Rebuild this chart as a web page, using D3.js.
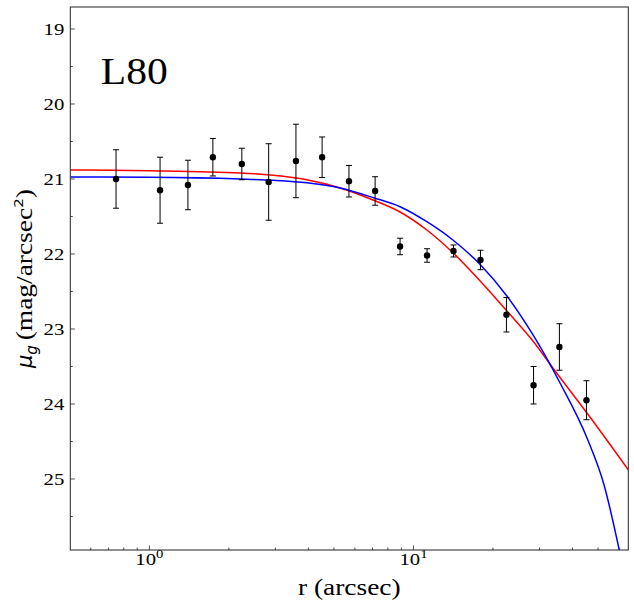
<!DOCTYPE html>
<html>
<head>
<meta charset="utf-8">
<script src="https://cdn.jsdelivr.net/npm/d3@7"></script>
<style>
  body { margin: 0; background: #fff; }
</style>
</head>
<body>
<div id="chart"></div>
<script>
var WIDTH = 634
var HEIGHT = 608
// no DejaVu Serif here: Liberation Serif, widened to DejaVu-like proportions
var SERIF = "'Liberation Serif', 'Times New Roman', serif"
var SANS = "'DejaVu Sans', sans-serif"
var STRETCH = 1.22

// measured profile points (arcsec, mag/arcsec^2)
var radius = [0.748, 1.098, 1.40, 1.74, 2.24, 2.83, 3.59, 4.51, 5.70, 7.16,
              8.90, 11.26, 14.18, 17.94, 22.5, 28.5, 35.7, 45.2];
var mu = [21.00, 21.15, 21.08, 20.71, 20.80, 21.04, 20.76, 20.71, 21.03, 21.16,
          21.90, 22.02, 21.96, 22.08, 22.81, 23.75, 23.24, 23.95];
var muErr = [0.39, 0.44, 0.33, 0.25, 0.21, 0.51, 0.49, 0.27, 0.21, 0.19,
             0.11, 0.09, 0.08, 0.13, 0.23, 0.25, 0.31, 0.26];

// fitted models, sampled off the figure
var redR  = [0.502, 1.0, 2.21, 2.94, 3.95, 5.28, 7.03, 8.90, 11.24, 14.18, 17.89, 22.59, 28.49, 33.9, 45.4, 65.2];
var redMu = [20.88, 20.89, 20.92, 20.95, 21.01, 21.12, 21.28, 21.44, 21.68, 21.99, 22.36, 22.76, 23.17, 23.53, 24.12, 24.88];

var blueR  = [0.502, 1.0, 2.21, 2.95, 3.95, 5.28, 7.06, 8.90, 11.24, 14.18, 17.89, 22.59, 28.49, 35.9, 45.5, 52.7, 60.2];
var blueMu = [20.973, 20.977, 21.00, 21.017, 21.05, 21.12, 21.25, 21.37, 21.57, 21.82, 22.14, 22.56, 23.09, 23.72, 24.46, 25.08, 25.95];

var yTicks = [19, 20, 21, 22, 23, 24, 25];
var yMinor = [19.5, 20.5, 21.5, 22.5, 23.5, 24.5, 25.5];
var xMajor = [1, 10];
var xMajorExp = ['0', '1'];
var galaxyName = 'L80';

var margin = { top: 7, right: 5.7, bottom: 58, left: 70.3 };
var w = WIDTH - margin.left - margin.right;
var h = HEIGHT - margin.top - margin.bottom;

var svg = d3.select('#chart').append('svg')
    .attr('width', WIDTH)
    .attr('height', HEIGHT);

var g = svg.append('g')
    .attr('transform', 'translate(' + margin.left + ',' + margin.top + ')');

// serif text placed at (x, y), stretched horizontally
function serifText(parent, x, y, size, stretch) {
    return parent.append('text')
        .attr('transform', 'translate(' + x + ',' + y + ') scale(' + (stretch || STRETCH) + ',1)')
        .attr('font-family', SERIF)
        .attr('font-size', size);
}

var xScale = d3.scaleLog()
    .domain([0.502, 65.1])
    .range([0, w]);
var yScale = d3.scaleLinear()
    .domain([18.707, 25.947])
    .range([0, h]);

g.append('clipPath').attr('id', 'clip')
    .append('rect').attr('width', w).attr('height', h);

// ticks pointing inward, left and bottom only
var xMinor = xScale.ticks().filter(t => xMajor.indexOf(t) === -1);

g.selectAll('.xminor').data(xMinor).enter().append('line')
    .attr('x1', d => xScale(d)).attr('x2', d => xScale(d))
    .attr('y1', h).attr('y2', h - 2.5)
    .attr('stroke', '#222').attr('stroke-width', 0.8);
g.selectAll('.xmajor').data(xMajor).enter().append('line')
    .attr('x1', d => xScale(d)).attr('x2', d => xScale(d))
    .attr('y1', h).attr('y2', h - 4.5)
    .attr('stroke', '#222').attr('stroke-width', 0.8);

xMajor.forEach(function (t, i) {
    var lab = serifText(g, xScale(t), h + 15, 17).attr('text-anchor', 'middle');
    lab.append('tspan').text('10');
    lab.append('tspan').attr('dy', -7).attr('font-size', 12).text(xMajorExp[i]);
});

g.selectAll('.yminor').data(yMinor).enter().append('line')
    .attr('x1', 0).attr('x2', 2.5)
    .attr('y1', d => yScale(d)).attr('y2', d => yScale(d))
    .attr('stroke', '#222').attr('stroke-width', 0.8);
g.selectAll('.ymajor').data(yTicks).enter().append('line')
    .attr('x1', 0).attr('x2', 4.5)
    .attr('y1', d => yScale(d)).attr('y2', d => yScale(d))
    .attr('stroke', '#222').attr('stroke-width', 0.8);
yTicks.forEach(function (t) {
    serifText(g, -6, yScale(t), 17)
        .attr('dy', '0.35em')
        .attr('text-anchor', 'end')
        .text(t);
});

// model curves
var line = d3.line()
    .x(d => xScale(d[0]))
    .y(d => yScale(d[1]))
    .curve(d3.curveMonotoneX);

var curves = g.append('g').attr('clip-path', 'url(#clip)');
curves.append('path')
    .attr('d', line(d3.zip(redR, redMu)))
    .attr('fill', 'none').attr('stroke', '#ff0000').attr('stroke-width', 1.5);
curves.append('path')
    .attr('d', line(d3.zip(blueR, blueMu)))
    .attr('fill', 'none').attr('stroke', '#0000ff').attr('stroke-width', 1.5);

// error bars and points
var pts = radius.map((r, i) => ({ r: r, mu: mu[i], err: muErr[i] }));

var eb = g.selectAll('.eb').data(pts).enter().append('g');
eb.append('line')
    .attr('x1', d => xScale(d.r)).attr('x2', d => xScale(d.r))
    .attr('y1', d => yScale(d.mu - d.err)).attr('y2', d => yScale(d.mu + d.err))
    .attr('stroke', '#000').attr('stroke-width', 1);
eb.append('line')
    .attr('x1', d => xScale(d.r) - 3).attr('x2', d => xScale(d.r) + 3)
    .attr('y1', d => yScale(d.mu - d.err)).attr('y2', d => yScale(d.mu - d.err))
    .attr('stroke', '#000').attr('stroke-width', 1);
eb.append('line')
    .attr('x1', d => xScale(d.r) - 3).attr('x2', d => xScale(d.r) + 3)
    .attr('y1', d => yScale(d.mu + d.err)).attr('y2', d => yScale(d.mu + d.err))
    .attr('stroke', '#000').attr('stroke-width', 1);
eb.append('circle')
    .attr('cx', d => xScale(d.r))
    .attr('cy', d => yScale(d.mu))
    .attr('r', 3.2)
    .attr('fill', '#000');

// frame
g.append('rect')
    .attr('width', w).attr('height', h)
    .attr('fill', 'none').attr('stroke', '#222').attr('stroke-width', 1);

// label inside plot
serifText(g, 30.5, 76.5, 38.5, 1.08).text(galaxyName);

// axis titles
serifText(svg, margin.left + w / 2, 595, 22.5)
    .attr('text-anchor', 'middle')
    .text('r (arcsec)');

// y title: mathtext part in sans, the rest in stretched serif
var yl = svg.append('g')
    .attr('transform', 'translate(32,' + (margin.top + h / 2) + ') rotate(-90)');
var t1 = yl.append('text')
    .attr('font-family', SANS).attr('font-style', 'italic').attr('font-size', 21);
t1.append('tspan').text('\u03bc');
t1.append('tspan').attr('font-size', 15).attr('dy', 5).text('g');
var w1 = t1.node().getComputedTextLength();

var t2 = yl.append('text')
    .attr('font-family', SERIF).attr('font-size', 22.5);
t2.append('tspan').attr('dx', 4).text('(mag/arcsec');
t2.append('tspan').attr('font-family', SANS).attr('font-size', 12.5).attr('dy', -9).text('2');
t2.append('tspan').attr('dy', 9).text(')');
var w2 = t2.node().getComputedTextLength() + 4;

var x0 = -(w1 + w2 * STRETCH) / 2;
t1.attr('x', x0);
t2.attr('transform', 'translate(' + (x0 + w1) + ',0) scale(' + STRETCH + ',1)');
</script>
</body>
</html>
